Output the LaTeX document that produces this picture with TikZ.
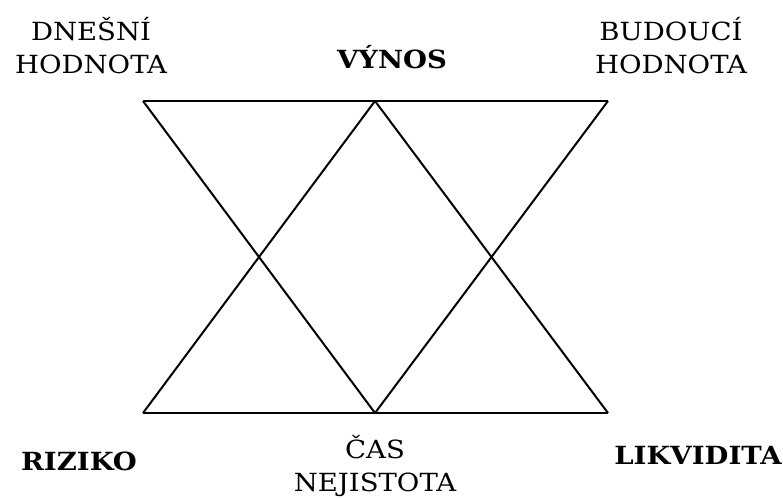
\documentclass[tikz,border=0pt]{standalone}
\usepackage{fontspec}
\setmainfont{DejaVu Serif}[FakeStretch=1.1]
\begin{document}
\begin{tikzpicture}[x=1pt,y=-1pt,
  lbl/.style={inner sep=0pt,align=center,font=\fontsize{25}{33}\selectfont},
  blbl/.style={inner sep=0pt,align=center,font=\fontsize{25}{33}\selectfont\bfseries},
  edge/.style={line width=2pt,black}]
\useasboundingbox (0,0) rectangle (783,498);
\fill[white] (0,0) rectangle (783,498);
\coordinate (TL) at (143,101);
\coordinate (TM) at (375,101);
\coordinate (TR) at (608,101);
\coordinate (BL) at (143,413);
\coordinate (BM) at (375,413);
\coordinate (BR) at (608,413);
\draw[edge] (TL) -- (TR);
\draw[edge] (BL) -- (BR);
\draw[edge] (TL) -- (BM);
\draw[edge] (TM) -- (BL);
\draw[edge] (TM) -- (BR);
\draw[edge] (TR) -- (BM);
\node[lbl] (dnes) at (91,46) {DNEŠNÍ\\HODNOTA};
\node[blbl] (vynos) at (392,57) {VÝNOS};
\node[lbl] (bud) at (671,46) {BUDOUCÍ\\HODNOTA};
\node[blbl] (riz) at (79,461) {RIZIKO};
\node[lbl] (cas) at (375,466) {ČAS\\NEJISTOTA};
\node[blbl] (lik) at (698,455) {LIKVIDITA};
\end{tikzpicture}
\end{document}
